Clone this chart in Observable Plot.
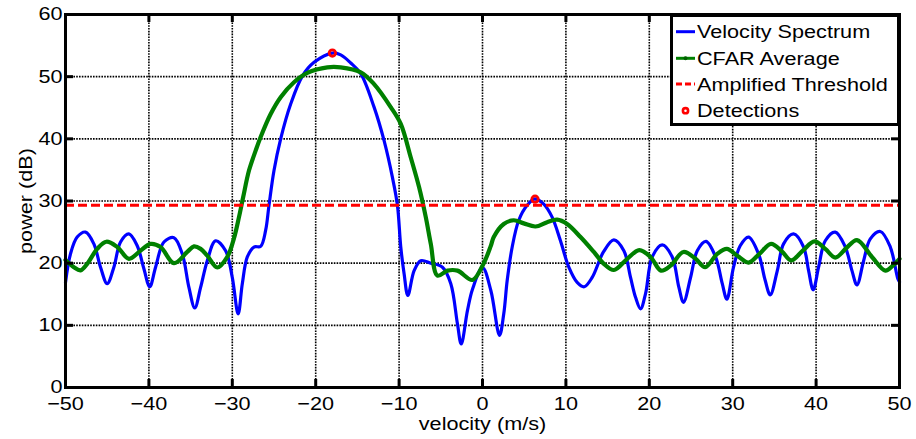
<!DOCTYPE html>
<html><head><meta charset="utf-8">
<script src="https://cdn.jsdelivr.net/npm/d3@7"></script>
<script src="https://cdn.jsdelivr.net/npm/@observablehq/plot@0.6"></script>
<style>
html,body{margin:0;padding:0;background:#fff;}
#wrap{position:relative;width:916px;height:439px;}
#legend{position:absolute;left:0;top:0;pointer-events:none;}
</style></head><body><div id="wrap"></div>
<script>
// Velocity spectrum (blue)
const velX = [-50.0,-49.4,-48.6,-47.6,-46.6,-45.8,-45.0,-44.2,-43.4,-42.4,-41.4,-40.6,-39.9,-39.2,-38.2,-37.0,-36.0,-35.2,-34.5,-33.8,-33.0,-32.0,-30.8,-30.0,-29.3,-28.8,-28.2,-27.4,-26.6,-26.0,-25.6,-25.0,-24.2,-23.0,-21.6,-20.2,-18.0,-17.0,-15.8,-14.6,-13.0,-11.8,-10.8,-10.2,-9.8,-9.4,-8.95,-8.2,-7.4,-6.2,-4.8,-3.8,-3.0,-2.55,-1.8,-1.2,0.0,1.0,2.04,2.55,2.96,3.56,4.35,5.35,6.27,7.35,8.35,9.35,10.35,11.35,12.2,13.15,14.5,15.75,16.95,17.75,18.35,18.95,19.55,20.35,21.55,22.75,23.55,24.1,24.95,25.75,26.8,27.95,28.75,29.3,30.1,30.9,31.9,33.1,33.9,34.5,35.35,36.1,37.3,38.5,39.1,39.65,40.3,41.1,42.3,43.5,44.3,44.9,45.7,46.5,47.7,48.9,49.8,50.0];
const velY = [16.9,21.5,24.2,25.0,23.1,19.35,16.7,19.35,23.4,24.7,22.8,19.1,16.2,19.35,23.4,24.1,21.5,16.1,12.8,16.1,20.4,23.6,22.0,17.7,11.85,16.7,21.0,22.6,22.7,25.3,29.3,34.9,40.0,45.6,50.1,52.3,53.8,53.5,52.2,50.5,45.1,39.7,33.8,29.3,22.6,18.3,14.8,18.8,20.4,20.0,19.35,16.7,10.2,7.0,12.4,15.8,19.3,15.6,8.4,11.85,17.2,22.6,26.9,29.3,30.35,29.5,27.4,23.6,19.35,16.9,16.2,17.7,21.8,23.75,22.0,17.7,14.5,12.65,15.1,21.0,22.95,21.0,16.1,13.7,17.7,22.0,23.5,21.0,16.7,14.2,19.35,22.8,24.2,21.5,17.2,14.9,18.8,23.1,24.7,22.6,18.8,15.7,19.35,23.6,25.0,22.6,18.8,16.5,20.4,23.9,25.1,22.6,17.5,17.0];
// CFAR average (green)
const cfarX = [-50.0,-49.0,-48.2,-47.4,-46.2,-45.1,-43.8,-42.4,-41.1,-39.8,-38.6,-37.0,-35.4,-34.6,-33.8,-33.0,-31.8,-30.6,-29.8,-29.2,-28.7,-28.0,-27.2,-26.6,-25.4,-24.2,-22.6,-21.0,-18.6,-17.0,-14.6,-13.0,-11.0,-9.8,-8.6,-7.6,-6.8,-6.2,-5.4,-4.2,-3.0,-1.2,0.15,1.0,1.35,2.55,3.75,4.95,6.35,7.75,8.95,10.15,11.75,13.35,14.55,15.75,17.35,18.8,20.15,21.4,22.55,24.1,25.55,26.7,28.15,29.3,30.55,31.9,33.2,34.6,35.9,37.0,38.4,39.8,41.1,42.3,43.6,44.9,46.7,48.3,49.2,50.0];
const cfarY = [20.5,19.35,18.85,19.9,22.3,23.45,22.6,20.7,21.9,23.1,22.6,20.0,21.8,22.7,22.3,21.2,19.3,21.0,24.0,27.4,30.6,34.9,38.1,40.3,44.0,46.7,49.1,50.6,51.5,51.5,50.7,48.8,45.1,42.4,37.0,32.2,27.4,23.1,18.0,18.8,18.8,17.3,20.0,22.8,24.2,26.3,26.9,26.4,25.9,26.6,27.0,26.3,24.2,21.8,19.9,18.9,20.7,22.1,21.0,18.8,19.6,21.8,20.7,19.35,21.5,22.3,21.2,20.1,21.5,23.1,21.9,20.45,22.0,23.5,22.3,20.9,22.4,23.7,21.0,18.8,19.6,20.7];
// Amplified threshold (red dashed)
const threshold = 29.3;
// Detections
const detX = [-18.0, 6.3];
const detY = [53.8, 30.3];
// Axes
const xTicks = [-50,-40,-30,-20,-10,0,10,20,30,40,50];
const yTicks = [0,10,20,30,40,50,60];
const xLabel = "velocity (m/s)";
const yLabel = "power (dB)";
const seriesNames = ["Velocity Spectrum","CFAR Average","Amplified Threshold","Detections"];

const W = 916, H = 439, mL = 65, mR = 17, mT = 14, mB = 52;
const innerW = W - mL - mR, innerH = H - mT - mB, tickLen = 8;
const FONT = "'Liberation Sans', Arial, Helvetica, sans-serif";
const STRETCH = 1.17;

const fmt = d => d < 0 ? "\u2212" + Math.abs(d) : String(d);
const gridStyle = {stroke:"#000", strokeOpacity:1, strokeWidth:1.6, strokeDasharray:"1.6,1.2"};
const tickStyle = {stroke:"#000", strokeWidth:3};

const chart = Plot.plot({
  width:W, height:H, marginLeft:mL, marginRight:mR, marginTop:mT, marginBottom:mB,
  style:{fontFamily:FONT, fontSize:"18.5px", background:"#fff", color:"#000", overflow:"visible"},
  x:{domain:[-50,50]}, y:{domain:[0,60]},
  marks:[
    Plot.gridX(xTicks, gridStyle),
    Plot.gridY(yTicks, gridStyle),
    Plot.line(velX, {x: velX, y: velY, stroke:"#0000ff", strokeWidth:3.2, curve:"catmull-rom"}),
    Plot.line(cfarX, {x: cfarX, y: cfarY, stroke:"#008000", strokeWidth:4.2, curve:"catmull-rom"}),
    Plot.ruleY([threshold], {stroke:"#ff0000", strokeWidth:3, strokeDasharray:"9,4"}),
    Plot.dot(detX, {x: detX, y: detY, r:3.2, stroke:"#ff0000", strokeWidth:2.8, fill:"none"}),
    Plot.tickX(xTicks, {x: d => d, ...tickStyle, insetTop: innerH - tickLen}),
    Plot.tickX(xTicks, {x: d => d, ...tickStyle, insetBottom: innerH - tickLen}),
    Plot.tickY(yTicks, {y: d => d, ...tickStyle, insetRight: innerW - tickLen}),
    Plot.tickY(yTicks, {y: d => d, ...tickStyle, insetLeft: innerW - tickLen}),
    Plot.axisX(xTicks, {anchor:"bottom", tickSize:0, tickPadding:9, tickFormat:fmt, label:xLabel, labelAnchor:"center", labelOffset:42, labelArrow:"none"}),
    Plot.axisY(yTicks, {anchor:"left", tickSize:0, tickPadding:3, tickFormat:fmt, label:yLabel, labelAnchor:"center", labelOffset:47, labelArrow:"none"}),
    Plot.frame({stroke:"#000", strokeWidth:3})
  ]
});
document.getElementById("wrap").appendChild(chart);
// Horizontally stretch text glyphs to match the reference's wide Helvetica look
d3.select(chart).selectAll("text").each(function() {
  const t = this.getAttribute("transform");
  if (t && t.trim().startsWith("translate(")) this.setAttribute("transform", t + ` scale(${STRETCH},1)`);
});

// Legend overlay
const lg = d3.select("#wrap").append("svg").attr("id","legend").attr("width",W).attr("height",H)
  .style("font-family",FONT).style("font-size","18.5px");
lg.append("rect").attr("x",671.5).attr("y",15.5).attr("width",227).attr("height",109)
  .attr("fill","#fff").attr("stroke","#000").attr("stroke-width",3);
const rowY = [31.7, 58.3, 84, 110.7];
const sx0 = 676, sx1 = 695;
lg.append("line").attr("x1",sx0).attr("x2",sx1).attr("y1",rowY[0]).attr("y2",rowY[0]).attr("stroke","#0000ff").attr("stroke-width",3);
lg.append("line").attr("x1",sx0).attr("x2",sx1).attr("y1",rowY[1]).attr("y2",rowY[1]).attr("stroke","#008000").attr("stroke-width",3);
lg.append("circle").attr("cx",(sx0+sx1)/2).attr("cy",rowY[1]).attr("r",2).attr("fill","#006000");
lg.append("line").attr("x1",sx0).attr("x2",sx1).attr("y1",rowY[2]).attr("y2",rowY[2]).attr("stroke","#ff0000").attr("stroke-width",3).attr("stroke-dasharray","6,3");
lg.append("circle").attr("cx",(sx0+sx1)/2).attr("cy",rowY[3]).attr("r",2.6).attr("fill","#fff").attr("stroke","#ff0000").attr("stroke-width",2.6);
seriesNames.forEach((n,i) => {
  lg.append("text").attr("transform",`translate(697,${rowY[i]}) scale(${STRETCH},1)`).attr("dy","0.36em").attr("fill","#000").text(n);
});
</script>
</body></html>
